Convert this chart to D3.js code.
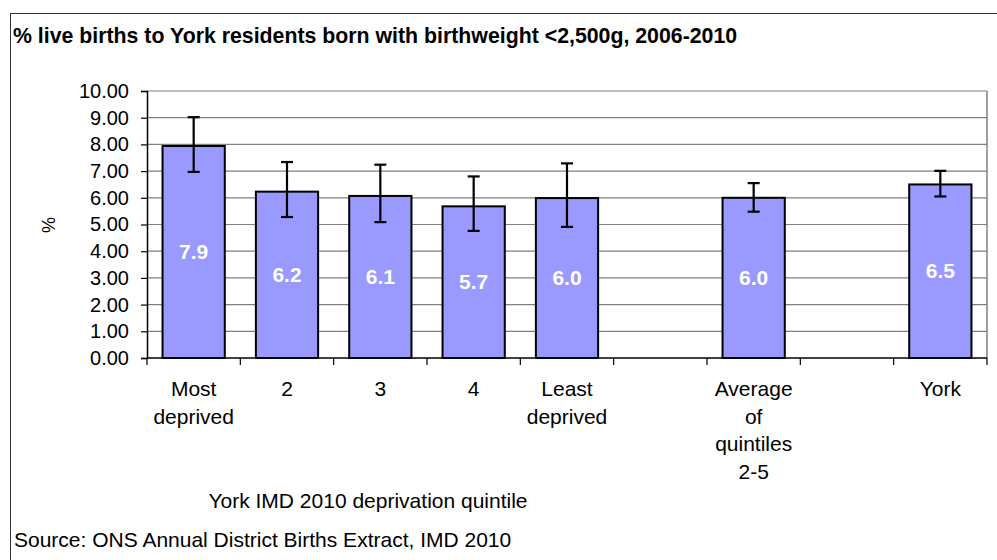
<!DOCTYPE html>
<html>
<head>
<meta charset="utf-8">
<title>low birthweight york</title>
<script src="https://cdn.jsdelivr.net/npm/d3@7"></script>
<style>
  body { margin: 0; background: #fff; }
  text { font-family: "Liberation Sans", Arial, sans-serif; }
</style>
</head>
<body>
<div id="container"></div>
<script>
// values
var categories = ["Most deprived", "2", "3", "4", "Least deprived", "gap1", "Average of quintiles 2-5", "gap2", "York"];
var labelLines = [["Most", "deprived"], ["2"], ["3"], ["4"], ["Least", "deprived"], [], ["Average", "of", "quintiles", "2-5"], [], ["York"]];
var values = [7.94, 6.23, 6.07, 5.68, 5.99, null, 6.00, null, 6.50];
var lower = [6.97, 5.28, 5.09, 4.76, 4.91, null, 5.48, null, 6.05];
var upper = [9.02, 7.34, 7.24, 6.80, 7.29, null, 6.55, null, 7.01];
var barLabels = ["7.9", "6.2", "6.1", "5.7", "6.0", "", "6.0", "", "6.5"];
var yTicks = [0, 1, 2, 3, 4, 5, 6, 7, 8, 9, 10];

var W = 997, H = 560;
var plot = {left: 147, right: 987, top: 91, bottom: 358};

var svg = d3.select("#container").append("svg")
  .attr("width", W).attr("height", H);

// outer chart frame
svg.append("rect")
  .attr("x", 10.5).attr("y", 13.5)
  .attr("width", 1000).attr("height", 600)
  .attr("fill", "none").attr("stroke", "#333").attr("stroke-width", 1);

svg.append("text")
  .attr("x", 13).attr("y", 43)
  .attr("font-size", 21.3).attr("font-weight", "bold")
  .text("% live births to York residents born with birthweight <2,500g, 2006-2010");

var x = d3.scaleBand().domain(categories)
  .range([plot.left, plot.right]).paddingInner(0.333).paddingOuter(0.1665);
var step = (plot.right - plot.left) / categories.length;
var y = d3.scaleLinear().domain([0, 10]).range([plot.bottom, plot.top]);

// gridlines
svg.append("g").selectAll("line")
  .data(yTicks.slice(1))
  .enter().append("line")
    .attr("x1", plot.left).attr("x2", plot.right)
    .attr("y1", function(d) { return y(d); })
    .attr("y2", function(d) { return y(d); })
    .attr("stroke", "#808080").attr("stroke-width", 1.2);

// plot area border, right side
svg.append("line")
  .attr("x1", plot.right).attr("x2", plot.right)
  .attr("y1", plot.top).attr("y2", plot.bottom)
  .attr("stroke", "#808080").attr("stroke-width", 1.5);

// y axis
var yAxis = svg.append("g")
  .attr("transform", "translate(" + plot.left + ",0)")
  .call(d3.axisLeft(y).tickValues(yTicks).tickFormat(d3.format(".2f")).tickSizeOuter(0).tickSize(6).tickPadding(12));
yAxis.select(".domain").attr("stroke", "#000").attr("stroke-width", 1.5);
yAxis.selectAll(".tick line").attr("stroke", "#000").attr("stroke-width", 1.2);
yAxis.selectAll("text").attr("font-size", 20).attr("font-family", "Liberation Sans, Arial").attr("fill", "#000");

svg.append("text")
  .attr("transform", "translate(55,225) rotate(-90)")
  .attr("text-anchor", "middle").attr("font-size", 18)
  .text("%");

// bars
var idx = d3.range(categories.length).filter(function(i) { return values[i] != null; });

svg.append("g").selectAll("rect")
  .data(idx)
  .enter().append("rect")
    .attr("x", function(i) { return x(categories[i]); })
    .attr("y", function(i) { return y(values[i]); })
    .attr("width", x.bandwidth())
    .attr("height", function(i) { return y(0) - y(values[i]); })
    .attr("fill", "#9999ff").attr("stroke", "#000").attr("stroke-width", 2);

// error bars
var eb = svg.append("g").attr("stroke", "#000").attr("stroke-width", 2.2);
idx.forEach(function(i) {
  var cx = x(categories[i]) + x.bandwidth() / 2;
  eb.append("line").attr("x1", cx).attr("x2", cx).attr("y1", y(upper[i])).attr("y2", y(lower[i]));
  eb.append("line").attr("x1", cx - 6).attr("x2", cx + 6).attr("y1", y(upper[i])).attr("y2", y(upper[i]));
  eb.append("line").attr("x1", cx - 6).attr("x2", cx + 6).attr("y1", y(lower[i])).attr("y2", y(lower[i]));
});

// value labels
svg.append("g").selectAll("text")
  .data(idx)
  .enter().append("text")
    .attr("x", function(i) { return x(categories[i]) + x.bandwidth() / 2; })
    .attr("y", function(i) { return (y(values[i]) + y(0)) / 2 + 7; })
    .attr("text-anchor", "middle")
    .attr("font-size", 21).attr("font-weight", "bold").attr("fill", "#fff")
    .text(function(i) { return barLabels[i]; });

// x axis
svg.append("line")
  .attr("x1", plot.left).attr("x2", plot.right)
  .attr("y1", plot.bottom).attr("y2", plot.bottom)
  .attr("stroke", "#000").attr("stroke-width", 1.5);
svg.append("g").selectAll("line")
  .data(d3.range(categories.length + 1))
  .enter().append("line")
    .attr("x1", function(i) { return plot.left + i * step; })
    .attr("x2", function(i) { return plot.left + i * step; })
    .attr("y1", plot.bottom).attr("y2", plot.bottom + 7)
    .attr("stroke", "#000").attr("stroke-width", 1.2);

var xl = svg.append("g");
categories.forEach(function(c, i) {
  var cx = x(c) + x.bandwidth() / 2;
  var t = xl.append("text").attr("text-anchor", "middle").attr("font-size", 21);
  labelLines[i].forEach(function(s, k) {
    t.append("tspan").attr("x", cx).attr("y", 396 + k * 27.5).text(s);
  });
});

svg.append("text")
  .attr("x", 368).attr("y", 508)
  .attr("text-anchor", "middle").attr("font-size", 21)
  .text("York IMD 2010 deprivation quintile");

svg.append("text")
  .attr("x", 14).attr("y", 547)
  .attr("font-size", 21)
  .text("Source: ONS Annual District Births Extract, IMD 2010");
</script>
</body>
</html>
